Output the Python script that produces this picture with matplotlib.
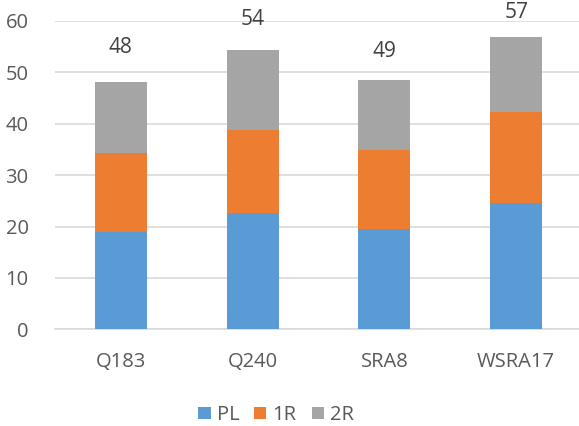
import matplotlib.pyplot as plt
import numpy as np

# 데이터
categories = ["Q183", "Q240", "SRA8", "WSRA17"]
pl = [19.0, 22.6, 19.5, 24.5]
r1 = [15.4, 16.1, 15.3, 17.7]
r2 = [13.7, 15.6, 13.7, 14.7]
totals = [48, 54, 49, 57]

colors = ["#5B9BD5", "#ED7D31", "#A5A5A5"]
names = ["PL", "1R", "2R"]
# 라벨 위치 (막대 위로 띄우는 거리, 픽셀)
label_gap_px = [35, 31, 29, 24.5]

plt.rcParams['font.family'] = ['Open Sans', 'DejaVu Sans']

fig = plt.figure(figsize=(5.79, 4.26), dpi=100)
ax = fig.add_axes([55 / 579, 1 - 329.3 / 426, 527 / 579, 308.3 / 426])

x = np.arange(len(categories))
width = 0.395
bottom = np.zeros(len(categories))
for vals, c, n in zip([pl, r1, r2], colors, names):
    ax.bar(x, vals, width, bottom=bottom, color=c, label=n, zorder=3)
    bottom += np.array(vals)

# 합계 라벨
for xi, top, t, g in zip(x, bottom, totals, label_gap_px):
    ax.annotate(str(t), (xi, top), xytext=(0, g * 0.72), textcoords="offset points",
                ha="center", va="center", fontsize=15, color="#404040",
                annotation_clip=False)

ax.set_xlim(-0.5, 3.5)
ax.set_ylim(0, 60)
ax.set_yticks(range(0, 61, 10))
ax.set_xticks(x)
ax.set_xticklabels(categories)
ax.tick_params(axis="y", length=0, pad=19, labelsize=14.5, labelcolor="#595959")
ax.tick_params(axis="x", length=0, pad=16, labelsize=14.5, labelcolor="#595959")
ax.grid(axis="y", color="#D9D9D9", linewidth=1.2, zorder=0)
for s in ["top", "right", "left"]:
    ax.spines[s].set_visible(False)
ax.spines["bottom"].set_color("#D9D9D9")
ax.spines["bottom"].set_linewidth(1.2)

leg = fig.legend(loc="center", bbox_to_anchor=(276 / 579, 1 - 415 / 426), ncol=3,
                 frameon=False, fontsize=14.5, handlelength=0.6, handleheight=0.6,
                 handletextpad=0.3, columnspacing=0.75)
for t in leg.get_texts():
    t.set_color("#595959")

fig.savefig("out.png", dpi=100)
